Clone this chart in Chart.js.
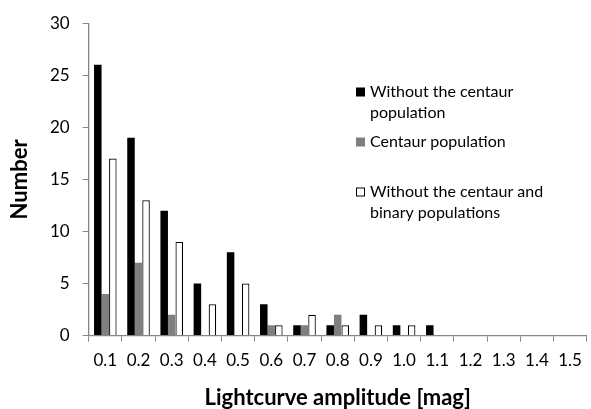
<!DOCTYPE html>
<html>
<head>
<meta charset="utf-8">
<script src="https://cdn.jsdelivr.net/npm/chart.js@4"></script>
<style>
  html, body { margin: 0; padding: 0; background: #fff; }
  #wrap { width: 591px; height: 409px; }
</style>
</head>
<body>
<div id="wrap"><canvas id="c"></canvas></div>
<script>
const amplitudes = ["0.1", "0.2", "0.3", "0.4", "0.5", "0.6", "0.7", "0.8", "0.9", "1.0", "1.1", "1.2", "1.3", "1.4", "1.5"]
const withoutCentaurs = [26, 19, 12, 5, 8, 3, 1, 1, 2, 1, 1, 0, 0, 0, 0]
const centaurs = [4, 7, 2, 0, 0, 1, 1, 2, 0, 0, 0, 0, 0, 0, 0]
const withoutCentaursBinaries = [17, 13, 9, 3, 5, 1, 2, 1, 1, 1, 0, 0, 0, 0, 0]
const yTicks = [0, 5, 10, 15, 20, 25, 30]

const FONT = "Lato, 'Open Sans', sans-serif"
const AXIS = "#868686"

// legend sits inside the plot, like the original
const insideLegend = {
  id: "insideLegend",
  afterDraw(chart) {
    const ctx = chart.ctx
    const items = [
      { y: 92, lines: ["Without the centaur", "population"] },
      { y: 142, lines: ["Centaur population"] },
      { y: 192, lines: ["Without the centaur and", "binary populations"] }
    ]
    ctx.save()
    ctx.font = "16px " + FONT
    ctx.textBaseline = "middle"
    items.forEach((it, i) => {
      const ds = chart.data.datasets[i]
      ctx.fillStyle = ds.backgroundColor
      ctx.fillRect(356, it.y - 4.5, 9, 9)
      if (i === 2) {
        ctx.strokeStyle = "#000"
        ctx.lineWidth = 1
        ctx.strokeRect(356.5, it.y - 4, 8, 8)
      }
      ctx.fillStyle = "#000"
      it.lines.forEach((t, j) => ctx.fillText(t, 370, it.y + j * 21))
    })
    ctx.restore()
  }
}

new Chart(document.getElementById("c"), {
  type: "bar",
  data: {
    labels: amplitudes,
    datasets: [
      { label: "Without the centaur population", data: withoutCentaurs, backgroundColor: "#000000", borderWidth: 0 },
      { label: "Centaur population", data: centaurs, backgroundColor: "#7f7f7f", borderWidth: 0 },
      { label: "Without the centaur and binary populations", data: withoutCentaursBinaries, backgroundColor: "#ffffff", borderColor: "#000000", borderWidth: 1.2 }
    ]
  },
  options: {
    responsive: true,
    maintainAspectRatio: false,
    animation: false,
    layout: { padding: { top: 6, right: 1, left: 4, bottom: 0 } },
    datasets: { bar: { barPercentage: 1, categoryPercentage: 0.68 } },
    plugins: { legend: { display: false }, tooltip: { enabled: false } },
    scales: {
      x: {
        grid: { display: true, drawOnChartArea: false, drawTicks: true, tickLength: 6, color: AXIS, offset: true },
        border: { color: AXIS, width: 1.3 },
        ticks: { color: "#000", font: { family: FONT, size: 17 }, padding: 9, maxRotation: 0, autoSkip: false },
        title: { display: true, text: "Lightcurve amplitude [mag]", color: "#000", font: { family: FONT, size: 22, weight: "bold", lineHeight: 1 }, padding: { top: 7, bottom: 0 } }
      },
      y: {
        min: 0, max: 30,
        afterBuildTicks: axis => { axis.ticks = yTicks.map(v => ({ value: v })) },
        grid: { display: true, drawOnChartArea: false, drawTicks: true, tickLength: 6, color: AXIS },
        border: { color: AXIS, width: 1.3 },
        ticks: { color: "#000", font: { family: FONT, size: 17 }, padding: 13 },
        title: { display: true, text: "Number", color: "#000", font: { family: FONT, size: 22, weight: "bold", lineHeight: 1 }, padding: { top: 5, bottom: 6 } }
      }
    }
  },
  plugins: [insideLegend]
})
</script>
</body>
</html>
